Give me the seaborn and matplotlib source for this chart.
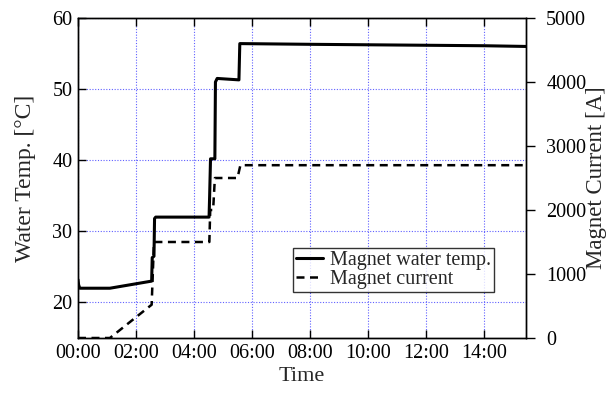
import matplotlib
matplotlib.use("Agg")
import matplotlib.pyplot as plt
import seaborn as sns
import pandas as pd

# --- data (time in hours since 00:00) ---
temp_time = [0.0, 0.02, 0.06, 1.1, 2.54, 2.56, 2.62, 2.64, 2.68, 4.52, 4.54, 4.57,
             4.72, 4.74, 4.80, 5.55, 5.58, 8.0, 11.0, 14.0, 15.45]
temp_vals = [23.2, 22.5, 22.0, 22.0, 23.0, 26.3, 26.5, 31.8, 32.0, 32.0, 35.0, 40.2,
             40.2, 51.0, 51.5, 51.3, 56.4, 56.3, 56.2, 56.1, 56.0]

curr_time = [0.0, 1.1, 2.54, 2.62, 4.53, 4.56, 4.66, 4.72, 5.50, 5.60, 15.45]
curr_vals = [0, 0, 520, 1500, 1500, 2000, 2000, 2500, 2500, 2700, 2700]

xticks = [0, 2, 4, 6, 8, 10, 12, 14]
xtick_labels = ["00:00", "02:00", "04:00", "06:00", "08:00", "10:00", "12:00", "14:00"]
temp_ticks = [20, 30, 40, 50, 60]
curr_ticks = [0, 1000, 2000, 3000, 4000, 5000]

sns.set_style("white")
plt.rcParams["font.family"] = ["Liberation Serif", "DejaVu Serif"]

df_t = pd.DataFrame({"time": temp_time, "temp": temp_vals})
df_c = pd.DataFrame({"time": curr_time, "curr": curr_vals})

fig = plt.figure(figsize=(6.07, 3.93), dpi=100)
ax = fig.add_axes([78 / 607, 1 - 338 / 393, (526 - 78) / 607, (338 - 18) / 393])
ax2 = ax.twinx()

sns.lineplot(data=df_t, x="time", y="temp", ax=ax, color="black", linewidth=2.2,
             estimator=None, sort=False, label="Magnet water temp.", legend=False)
sns.lineplot(data=df_c, x="time", y="curr", ax=ax2, color="black", linewidth=1.8,
             estimator=None, sort=False, label="Magnet current", legend=False)
ax2.lines[0].set_dashes([3.2, 2.2])

ax.set_xlim(0, 15.45)
ax.set_ylim(15, 60)
ax2.set_ylim(0, 5000)

ax.set_xticks(xticks)
ax.set_xticklabels(xtick_labels)
ax.set_yticks(temp_ticks)
ax2.set_yticks(curr_ticks)

ax.grid(True, color="#6060ff", linestyle=(0, (1, 1.5)), linewidth=0.8)
ax.set_axisbelow(True)

fs = 14.5
ax.tick_params(axis="x", direction="in", length=6, width=1, labelsize=fs,
               top=True, bottom=True, pad=4, colors="black")
ax.tick_params(axis="y", direction="in", length=6, width=1, labelsize=fs,
               left=True, right=False, pad=4, colors="black")
ax2.tick_params(axis="y", direction="out", length=6.5, width=1, labelsize=fs, pad=8,
                colors="black")

for a in (ax, ax2):
    for s in a.spines.values():
        s.set_color("black")
        s.set_linewidth(1.0)

ax.set_xlabel("Time", fontsize=16, labelpad=3)
ax.set_ylabel("Water Temp. [°C]", fontsize=17, labelpad=12)
ax2.set_ylabel("Magnet Current [A]", fontsize=16.5, labelpad=0)

h1, l1 = ax.get_legend_handles_labels()
h2, l2 = ax2.get_legend_handles_labels()
leg = ax2.legend(h1 + h2, l1 + l2, loc="upper left",
                 bbox_to_anchor=((293 - 78) / 448, (338 - 248) / 320),
                 fontsize=fs, frameon=True, fancybox=False, handlelength=1.35,
                 handletextpad=0.35, borderpad=0.15, labelspacing=0.0,
                 borderaxespad=0)
leg.get_frame().set_edgecolor("black")
leg.get_frame().set_linewidth(1.0)

fig.savefig("out.png", dpi=100)
